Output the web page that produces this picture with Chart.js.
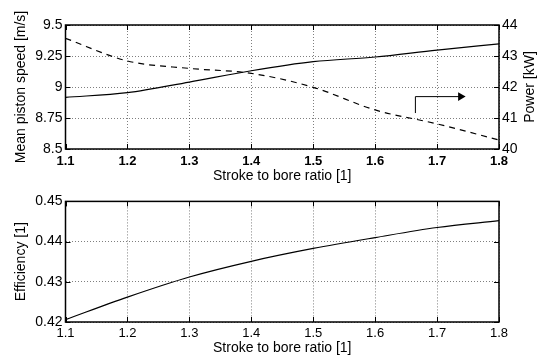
<!DOCTYPE html>
<html><head><meta charset="utf-8">
<script src="https://cdn.jsdelivr.net/npm/chart.js@4"></script>
<style>
html,body{margin:0;padding:0;background:#fff;overflow:hidden}
#w{position:relative;width:543px;height:361px}
#c1{position:absolute;left:0;top:0}
#c2{position:absolute;left:0;top:190px}
</style></head><body>
<div id="w"><canvas id="c1" width="543" height="190"></canvas><canvas id="c2" width="543" height="171"></canvas></div>
<script>
// ---- data ----
const strokeRatio = [1.1, 1.2, 1.3, 1.4, 1.5, 1.6, 1.7, 1.8];
const pistonSpeed = [8.917, 8.954, 9.040, 9.131, 9.204, 9.242, 9.298, 9.347];
const power = [43.57, 42.84, 42.60, 42.44, 41.99, 41.26, 40.81, 40.29];
const efficiency = [0.4206, 0.4262, 0.4312, 0.4351, 0.4383, 0.4410, 0.4435, 0.4452];
// ---- ticks ----
const xTicks = [1.1, 1.2, 1.3, 1.4, 1.5, 1.6, 1.7, 1.8];
const speedTicks = [8.5, 8.75, 9, 9.25, 9.5];
const powerTicks = [40, 41, 42, 43, 44];
const effTicks = [0.42, 0.43, 0.44, 0.45];
// ---- arrow annotation (x on stroke ratio, y on power axis) ----
const arrowX = [1.665, 1.665, 1.738];
const arrowY = [41.16, 41.69, 41.69];

const FONT = "'Liberation Sans', Arial, Helvetica, sans-serif";
const GRID = 'rgba(0,0,0,0.5)';
Chart.defaults.font.family = FONT;
Chart.defaults.color = '#000';

const pts = (xs, ys) => xs.map((x, i) => ({x, y: ys[i]}));
const setTicks = arr => s => { s.ticks = arr.map(v => ({value: v})); };

const frame = {
  id: 'frame',
  afterDraw(chart, args, opts) {
    const {ctx, chartArea: a, scales} = chart;
    ctx.save();
    ctx.setLineDash([]);
    ctx.strokeStyle = '#000';
    ctx.lineWidth = 1;
    const tl = 5;
    ctx.beginPath();
    scales.x.ticks.forEach(t => {
      const p = Math.round(scales.x.getPixelForValue(t.value)) + 0.5;
      ctx.moveTo(p, a.bottom); ctx.lineTo(p, a.bottom - tl);
      ctx.moveTo(p, a.top); ctx.lineTo(p, a.top + tl);
    });
    scales.y.ticks.forEach(t => {
      const p = Math.round(scales.y.getPixelForValue(t.value)) + 0.5;
      ctx.moveTo(a.left, p); ctx.lineTo(a.left + tl, p);
      ctx.moveTo(a.right, p); ctx.lineTo(a.right - tl, p);
    });
    ctx.stroke();
    ctx.lineWidth = 1.5;
    ctx.strokeRect(a.left, a.top, a.right - a.left, a.bottom - a.top);
    if (opts && opts.rightTitle) {
      ctx.translate(opts.rightX, (a.top + a.bottom) / 2);
      ctx.rotate(-Math.PI / 2);
      ctx.font = '14px ' + FONT;
      ctx.fillStyle = '#000';
      ctx.textAlign = 'center';
      ctx.textBaseline = 'middle';
      ctx.fillText(opts.rightTitle, 0, 0);
    }
    ctx.restore();
  }
};

const xScale = (h, tickFont, tickPad, titlePad) => ({
  type: 'linear', min: 1.1, max: 1.8,
  afterBuildTicks: setTicks(xTicks),
  afterFit: s => { s.height = h; },
  ticks: {font: tickFont, padding: tickPad, maxRotation: 0, autoSkip: false, callback: v => v.toFixed(1)},
  grid: {color: GRID, lineWidth: 1, drawTicks: false},
  border: {display: false, dash: [1, 2]},
  title: {display: true, text: 'Stroke to bore ratio [1]', font: {size: 14, lineHeight: 1.2}, padding: {top: 0, bottom: titlePad}}
});

// ---- top chart ----
new Chart(document.getElementById('c1'), {
  type: 'line',
  data: {
    datasets: [
      {data: pts(strokeRatio, pistonSpeed), yAxisID: 'y', borderColor: '#000', borderWidth: 1.2, pointRadius: 0, cubicInterpolationMode: 'monotone'},
      {data: pts(strokeRatio, power), yAxisID: 'y2', borderColor: '#000', borderWidth: 1.2, borderDash: [6, 5], pointRadius: 0, cubicInterpolationMode: 'monotone'},
      {data: pts(arrowX, arrowY), yAxisID: 'y2', borderColor: '#000', borderWidth: 1, pointRadius: [0, 0, 5], pointStyle: 'triangle', rotation: 90, pointBackgroundColor: '#000', pointBorderColor: '#000', pointBorderWidth: 0}
    ]
  },
  options: {
    responsive: false, animation: false, devicePixelRatio: 1,
    layout: {padding: {top: 25, left: 0, right: 0, bottom: 0}},
    plugins: {legend: {display: false}, tooltip: {enabled: false}, frame: {rightTitle: 'Power [kW]', rightX: 530.5}},
    scales: {
      x: xScale(41, {size: 13, weight: 'bold'}, 5, 5),
      y: {
        type: 'linear', position: 'left', min: 8.5, max: 9.5,
        afterBuildTicks: setTicks(speedTicks),
        afterFit: s => { s.width = 65.5; },
        ticks: {font: {size: 14}, padding: 3, callback: v => String(v)},
        grid: {color: GRID, lineWidth: 1, drawTicks: false},
        border: {display: false, dash: [1, 2]},
        title: {display: true, text: 'Mean piston speed [m/s]', font: {size: 14, lineHeight: 1.2}, padding: {top: 13, bottom: 0}}
      },
      y2: {
        type: 'linear', position: 'right', min: 40, max: 44,
        afterBuildTicks: setTicks(powerTicks),
        afterFit: s => { s.width = 44; },
        ticks: {font: {size: 14}, padding: 3, callback: v => String(v)},
        grid: {display: false, drawTicks: false},
        border: {display: false}
      }
    }
  },
  plugins: [frame]
});

// ---- bottom chart ----
new Chart(document.getElementById('c2'), {
  type: 'line',
  data: {
    datasets: [
      {data: pts(strokeRatio, efficiency), borderColor: '#000', borderWidth: 1.2, pointRadius: 0, cubicInterpolationMode: 'monotone'}
    ]
  },
  options: {
    responsive: false, animation: false, devicePixelRatio: 1,
    layout: {padding: {top: 9, left: 0, right: 44, bottom: 0}},
    plugins: {legend: {display: false}, tooltip: {enabled: false}, frame: {}},
    scales: {
      x: xScale(39, {size: 13}, 4, 4),
      y: {
        type: 'linear', position: 'left', min: 0.42, max: 0.45,
        afterBuildTicks: setTicks(effTicks),
        afterFit: s => { s.width = 65.5; },
        ticks: {font: {size: 14}, padding: 3, callback: v => v.toFixed(2)},
        grid: {color: GRID, lineWidth: 1, drawTicks: false},
        border: {display: false, dash: [1, 2]},
        title: {display: true, text: 'Efficiency [1]', font: {size: 14, lineHeight: 1.2}, padding: {top: 13, bottom: 0}}
      }
    }
  },
  plugins: [frame]
});
</script>
</body></html>
